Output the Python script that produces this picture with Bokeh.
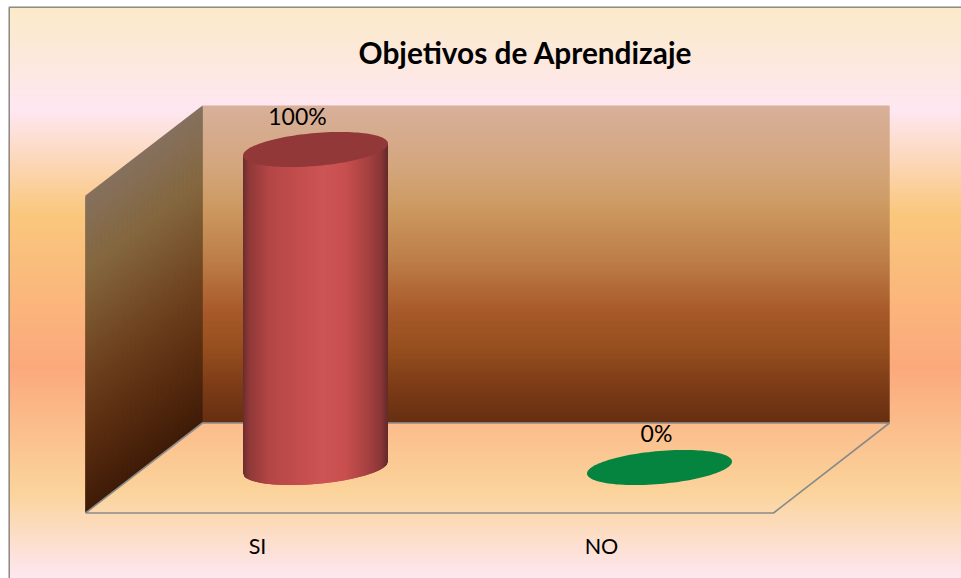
import math
from bokeh.plotting import figure
from bokeh.models import Range1d
from bokeh.core.properties import value
from bokeh.embed import file_html
from bokeh.resources import INLINE

# ---- chart data
title_text = "Objetivos de Aprendizaje"
categories = ["SI", "NO"]
values = [100, 0]

# ---- page pixel <-> data scale (category index on x, percent on y)
PX0, PX_UNIT = 315.0, 344.0
PY0, PY_UNIT = 467.0, 3.18
def X(px): return (px - PX0) / PX_UNIT
def Y(py): return (PY0 - py) / PY_UNIT

def hex2rgb(h): return tuple(int(h[i:i+2], 16) for i in (1, 3, 5))
def ramp(stops, t):
    if t <= stops[0][0]:
        return stops[0][1]
    for (a, ca), (b, cb) in zip(stops, stops[1:]):
        if t <= b:
            f = (t - a) / (b - a)
            ra, rb = hex2rgb(ca), hex2rgb(cb)
            return "#%02x%02x%02x" % tuple(round(x + (y - x) * f) for x, y in zip(ra, rb))
    return stops[-1][1]

BG_STOPS = [(6, "#fbeac7"), (110, "#fee7f2"), (213, "#fac77d"), (367, "#fba97d"), (492, "#fbd49b"), (578, "#fee7f2")]
WALL_STOPS = [(105, "#d8b09a"), (165, "#d4a67e"), (205, "#cd9a62"), (260, "#bd7e48"), (310, "#a85a2b"),
              (345, "#97501f"), (385, "#7d3c17"), (422, "#672f12")]
SIDE_STOPS = [(195, "#86715f"), (270, "#85683f"), (370, "#6f4320"), (435, "#5c2f12"), (512, "#401c08")]
CYL_STOPS = [(-72, "#6b2c2c"), (-66, "#8f3838"), (-45, "#b54646"), (-10, "#c54f4e"), (8, "#cd5454"),
             (30, "#c84f4e"), (52, "#a74141"), (66, "#8a3636"), (72, "#662a2a")]
TOP_COLORS = ["#933838", "#04843f"]

p = figure(width=961, height=578, output_backend="svg", toolbar_location=None,
           x_range=Range1d(X(0), X(961)), y_range=Range1d(Y(578), Y(0)),
           x_axis_location=None, y_axis_location=None, min_border=0,
           outline_line_color=None, background_fill_color="white", border_fill_color="white")
p.grid.visible = False

# chart-area gradient
rows = list(range(6, 578))
cols = [ramp(BG_STOPS, r + 0.5) for r in rows]
p.quad(left=X(8), right=X(961), top=[Y(r) for r in rows], bottom=[Y(r + 2) for r in rows],
       fill_color=cols, line_color=None)

# back wall
WX0, WX1, WY0, WY1 = 202, 889, 105, 422
rows = list(range(WY0, WY1))
cols = [ramp(WALL_STOPS, r + 0.5) for r in rows]
p.quad(left=X(WX0), right=X(WX1), top=[Y(r) for r in rows], bottom=[Y(min(r + 2, WY1)) for r in rows],
       fill_color=cols, line_color=None)

# side wall
SX0, SDY = 85, 90
rows = list(range(195, 512))
cols = [ramp(SIDE_STOPS, r + 0.5) for r in rows]
p.patches([[X(SX0), X(WX0), X(WX0), X(SX0)] for r in rows],
          [[Y(r), Y(r - SDY), Y(min(r + 3, 512) - SDY), Y(min(r + 3, 512))] for r in rows],
          fill_color=cols, line_color=None)

# floor edges
EDGE = "#8a8a8a"
p.line([X(85), X(773), X(889), X(202), X(85)], [Y(512.5), Y(512.5), Y(422.5), Y(422.5), Y(512.5)],
       line_color=EDGE, line_width=1.6)

# cylinders
A, SHEAR, B = 72.5, 6.0, 16.5
def ring(cx, cyv):
    xs, ys = [], []
    for k in range(0, 121):
        t = 2 * math.pi * k / 120
        c, s = math.cos(t), math.sin(t)
        xs.append(cx + A * c / PX_UNIT)
        ys.append(cyv - (-SHEAR * c + B * s) / PY_UNIT)
    return xs, ys

for i, v in enumerate(values):
    if v > 0:
        sx, sy, sc = [], [], []
        dx = -A
        while dx < A:
            x0, x1 = dx, min(dx + 2, A)
            c0, c1 = x0 / A, x1 / A
            b0 = -SHEAR * c0 + B * math.sqrt(max(0, 1 - c0 * c0))
            b1 = -SHEAR * c1 + B * math.sqrt(max(0, 1 - c1 * c1))
            sx.append([i + x0 / PX_UNIT, i + x1 / PX_UNIT, i + x1 / PX_UNIT, i + x0 / PX_UNIT])
            sy.append([v + SHEAR * c0 / PY_UNIT, v + SHEAR * c1 / PY_UNIT, -b1 / PY_UNIT, -b0 / PY_UNIT])
            sc.append(ramp(CYL_STOPS, (x0 + x1) / 2))
            dx += 1
        p.patches(sx, sy, fill_color=sc, line_color=None)
    xs, ys = ring(i, v)
    p.patch(xs, ys, fill_color=TOP_COLORS[i], line_color=None)

# chart border (left and top)
p.line([X(8.75), X(8.75), X(961)], [Y(578), Y(6.75), Y(6.75)], line_color="#8c8c8c", line_width=1.5)

# texts
FONT = value("Lato")
LABEL_DX = [-18, -3]
LABEL_DY = [-34, -35]
p.text(x=[X(525)], y=[Y(52)], text=[title_text], text_font=FONT, text_font_style="bold",
       text_font_size="29.8px", text_align="center", text_baseline="middle", text_color="black")
p.text(x=[i + LABEL_DX[i] / PX_UNIT for i in range(len(values))],
       y=[v - LABEL_DY[i] / PY_UNIT - 18 / PY_UNIT * 0 for i, v in enumerate(values)],
       text=[f"{v}%" for v in values], text_font=FONT, text_font_size="23px",
       text_align="center", text_baseline="middle", text_color="black")
p.text(x=[i + X(257) - X(315) for i in range(len(categories))], y=[Y(545.5)] * len(categories),
       text=categories, text_font=FONT, text_font_size="21.5px",
       text_align="center", text_baseline="middle", text_color="black")

open("out.html", "w").write(file_html(p, INLINE))
